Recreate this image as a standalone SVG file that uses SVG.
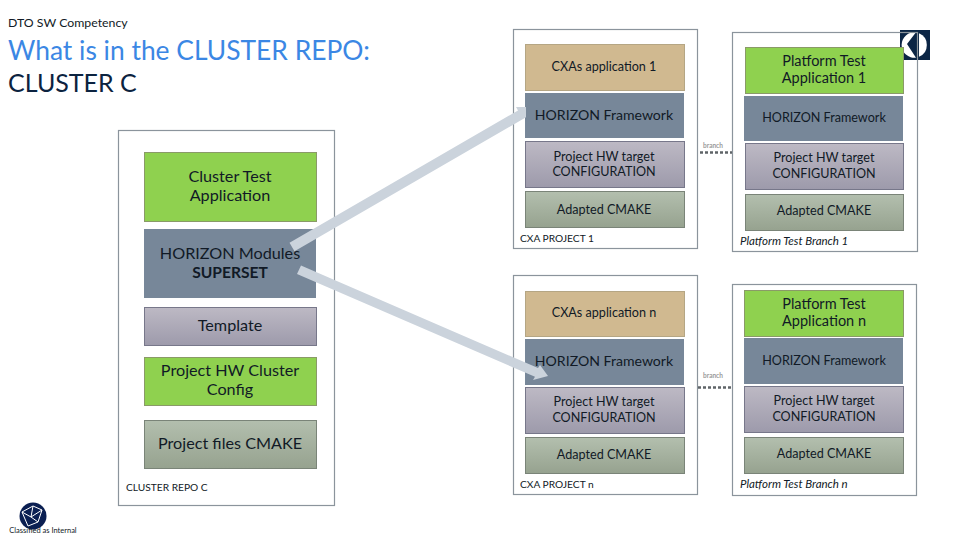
<svg xmlns="http://www.w3.org/2000/svg" width="960" height="540" viewBox="0 0 960 540">
<style>
text{font-family:Lato,"Liberation Sans",sans-serif;fill:#111a26;text-anchor:middle}
.panel{fill:#fff;stroke:#8b949c;stroke-width:1.2}
.edge{fill:none;stroke:#8b949c;stroke-width:1.2}
.app{fill:#d0b990;stroke:#b5a684;stroke-width:1}
.test{fill:#8fd14f;stroke:#8a9a68;stroke-width:1}
.hor{fill:#778799}
.cfg{fill:url(#gp);stroke:#77778a;stroke-width:1}
.cm{fill:url(#gg);stroke:#7a8478;stroke-width:1}
.s14{font-size:14.1px}
.st{font-size:14.5px}
.s13{font-size:12.6px}
.s17{font-size:16.200px}
.lab{font-size:10.200px;text-anchor:start}
.lab2{font-size:11.500px;text-anchor:start;font-style:italic}
.br{font-size:6.500px;fill:#9a9a9a;font-weight:700}
.dash{stroke:#5f6468;stroke-width:2.600;stroke-dasharray:3 2;fill:none}
.arr{fill:#cbd3dc}
</style>
<defs>
<linearGradient id="gp" x1="0" y1="0" x2="0" y2="1"><stop offset="0" stop-color="#bdb9c4"/><stop offset="1" stop-color="#9d9aab"/></linearGradient>
<linearGradient id="gg" x1="0" y1="0" x2="0" y2="1"><stop offset="0" stop-color="#b3bfae"/><stop offset="1" stop-color="#96a28f"/></linearGradient>
</defs>
<rect width="960" height="540" fill="#fff"/>
<g id="header">
<text x="8" y="27" style="font-size:12.300px;text-anchor:start">DTO SW Competency</text>
<text x="8" y="60" style="font-size:26.400px;text-anchor:start;fill:#3b87e4">What is in the CLUSTER REPO:</text>
<text x="8" y="92" style="font-size:25px;text-anchor:start;fill:#0c2340">CLUSTER C</text>
</g>
<g id="cluster-repo">
<rect class="panel" x="118.500" y="130.500" width="216" height="375"/>
<rect class="test" x="144.500" y="152.500" width="172" height="69"/>
<text class="s17" x="230" y="182">Cluster Test</text>
<text class="s17" x="230" y="201">Application</text>
<rect class="hor" x="144" y="229" width="172" height="69"/>
<text class="s17" x="230" y="259">HORIZON Modules</text>
<text x="230" y="278" font-weight="700" font-size="15.600">SUPERSET</text>
<rect class="cfg" x="144.500" y="307.500" width="172" height="38"/>
<text class="s17" x="230" y="331">Template</text>
<rect class="test" x="144.500" y="357.500" width="172" height="48"/>
<text class="s17" x="230" y="376">Project HW Cluster</text>
<text class="s17" x="230" y="395">Config</text>
<rect class="cm" x="144.500" y="420.500" width="172" height="48"/>
<text class="s17" x="230" y="449">Project files CMAKE</text>
<text class="lab" x="126" y="491">CLUSTER REPO C</text>
</g>
<g id="cxa-1">
<rect class="panel" x="513.500" y="29.500" width="184" height="219"/>
<rect class="app" x="525.500" y="44.500" width="159" height="46"/>
<text class="s13" x="604" y="71">CXAs application 1</text>
<rect class="hor" x="525" y="93" width="159" height="45"/>
<text class="s14" x="604" y="120">HORIZON Framework</text>
<rect class="cfg" x="525.500" y="141.500" width="159" height="46"/>
<text class="s13" x="604" y="161">Project HW target</text>
<text class="s13" x="604" y="176">CONFIGURATION</text>
<rect class="cm" x="525.500" y="191.500" width="159" height="36"/>
<text class="s13" x="604" y="214">Adapted CMAKE</text>
<text class="lab" x="520" y="242">CXA PROJECT 1</text>
</g>
<g id="platform-1">
<rect x="732.500" y="32.500" width="185" height="219" fill="#fff"/>
<g id="logo-brand">
<rect x="900" y="30" width="30" height="30" fill="#0b2545"/>
<path d="M916 32.300A12.800 12.800 0 1 0 916 57.700L907 44Z" fill="#fff"/>
<path d="M919 33.200A12.800 12.800 0 0 1 919 56.800Z" fill="#fff"/>
</g>
<rect class="edge" x="732.500" y="32.500" width="185" height="219"/>
<rect class="test" x="745.500" y="47.500" width="158" height="46"/>
<text class="st" x="824" y="66">Platform Test</text>
<text class="st" x="824" y="83">Application 1</text>
<rect class="hor" x="744" y="96" width="159" height="45"/>
<text class="s13" x="824" y="122">HORIZON Framework</text>
<rect class="cfg" x="745.500" y="143.500" width="158" height="46"/>
<text class="s13" x="824" y="162">Project HW target</text>
<text class="s13" x="824" y="178">CONFIGURATION</text>
<rect class="cm" x="745.500" y="194.500" width="158" height="36"/>
<text class="s13" x="824" y="215">Adapted CMAKE</text>
<text class="lab2" x="740" y="245">Platform Test Branch 1</text>
</g>
<g id="cxa-n">
<rect class="panel" x="513.500" y="275.500" width="184" height="219"/>
<rect class="app" x="525.500" y="291.500" width="159" height="45"/>
<text class="s13" x="604" y="317">CXAs application n</text>
<rect class="hor" x="525" y="339" width="159" height="46"/>
<rect class="cfg" x="525.500" y="387.500" width="159" height="46"/>
<text class="s13" x="604" y="406">Project HW target</text>
<text class="s13" x="604" y="422">CONFIGURATION</text>
<rect class="cm" x="525.500" y="437.500" width="159" height="36"/>
<text class="s13" x="604" y="459">Adapted CMAKE</text>
<text class="lab" x="520" y="488">CXA PROJECT n</text>
</g>
<g id="platform-n">
<rect class="panel" x="732.500" y="284.500" width="184" height="211"/>
<rect class="test" x="744.500" y="290.500" width="159" height="46"/>
<text class="st" x="824" y="309">Platform Test</text>
<text class="st" x="824" y="326">Application n</text>
<rect class="hor" x="744" y="338" width="159" height="46"/>
<text class="s13" x="824" y="365">HORIZON Framework</text>
<rect class="cfg" x="744.500" y="386.500" width="159" height="46"/>
<text class="s13" x="824" y="405">Project HW target</text>
<text class="s13" x="824" y="421">CONFIGURATION</text>
<rect class="cm" x="744.500" y="437.500" width="159" height="36"/>
<text class="s13" x="824" y="458">Adapted CMAKE</text>
<text class="lab2" x="740" y="488">Platform Test Branch n</text>
</g>
<g id="connectors">
<polygon class="arr" points="289.500,242.700 518,110.400 516,107 526,107 526,117.300 294.500,251.300"/>
<polygon class="arr" points="301,265.500 538,368 540,365 548,376 533,380 535,376.800 297,274"/>
<path class="dash" d="M700 152.500H732"/>
<path class="dash" d="M698 387.500H731"/>
<text class="br" x="713" y="148">branch</text>
<text class="br" x="713" y="378">branch</text>
</g>
<g id="cxa-n-framework-label">
<text class="s14" x="604" y="366">HORIZON Framework</text>
</g>
<g id="classification">
<circle cx="33" cy="516" r="13.500" fill="#0b1f52"/>
<path d="M22 512L33 506L42 510L38 522L28 526L22 512M33 506L31 517L38 522M31 517L22 512M42 510L31 517" fill="none" stroke="#fff" stroke-width="1"/>
<text x="43" y="533" style="font-size:7.500px">Classified as Internal</text>
</g>
</svg>
